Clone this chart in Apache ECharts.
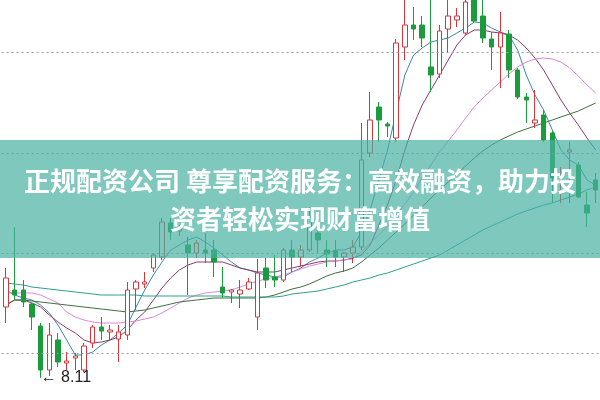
<!DOCTYPE html>
<html><head><meta charset="utf-8">
<script src="https://cdn.jsdelivr.net/npm/echarts@6/dist/echarts.min.js"></script>
<style>html,body{margin:0;padding:0;background:#fff}#c{width:600px;height:400px}</style>
</head><body><div id="c"></div>
<script>
const opens = [8.82, 8.99, 8.99, 8.85, 8.63, 8.19, 8.49, 8.26, 8.31, 8.19,
 8.46, 8.62, 8.57, 8.50, 8.54, 9.00, 9.05, 9.21, 9.32, 9.66,
 9.58, 9.44, 9.36, 9.39, 9.39, 9.02, 8.97, 8.95, 9.00, 8.72,
 9.21, 9.12, 9.09, 9.39, 9.32, 9.39, 9.56, 9.39, 9.38, 9.32,
 9.36, 9.42, 10.36, 10.82, 10.65, 10.51, 11.42, 11.64, 11.64, 11.22,
 11.15, 11.60, 11.69, 11.56, 11.91, 11.73, 11.50, 11.42, 11.55, 11.19,
 10.92, 10.66, 10.74, 10.56, 9.96, 10.37, 10.24, 9.84, 10.09];
const closes = [9.11, 8.94, 8.87, 8.72, 8.19, 8.54, 8.27, 8.28, 8.33, 8.43,
 8.62, 8.58, 8.59, 8.57, 8.99, 9.07, 9.07, 9.34, 9.67, 9.57,
 9.60, 9.36, 9.46, 9.36, 9.27, 8.96, 8.99, 8.99, 9.07, 9.16,
 9.09, 9.09, 9.39, 9.32, 9.39, 9.72, 9.49, 9.35, 9.32, 9.36,
 9.42, 10.29, 10.69, 10.69, 10.63, 11.46, 11.64, 11.60, 11.51, 11.14,
 11.58, 11.73, 11.73, 11.87, 11.68, 11.51, 11.42, 11.56, 11.19, 10.92,
 10.89, 10.69, 10.49, 10.11, 9.98, 10.39, 9.92, 9.76, 9.99];
const lows = [8.66, 8.89, 8.82, 8.59, 8.11, 8.13, 8.22, 8.19, 8.19, 8.17,
 8.41, 8.49, 8.49, 8.27, 8.49, 8.79, 9.01, 9.17, 9.29, 9.49,
 9.53, 8.94, 9.31, 9.26, 9.12, 8.91, 8.86, 8.81, 8.99, 8.59,
 9.01, 9.02, 9.07, 9.17, 9.22, 9.37, 9.36, 9.22, 9.22, 9.17,
 9.26, 9.39, 10.32, 10.47, 10.52, 10.47, 11.29, 11.49, 11.42, 10.97,
 11.11, 11.37, 11.62, 11.54, 11.66, 11.46, 11.19, 11.01, 11.11, 10.90,
 10.66, 10.61, 10.47, 9.86, 9.86, 9.86, 9.91, 9.62, 9.86];
const highs = [9.21, 9.62, 9.09, 8.86, 8.66, 8.66, 8.56, 8.37, 8.36, 8.46,
 8.64, 8.72, 8.64, 8.64, 9.07, 9.09, 9.17, 9.36, 9.71, 9.71,
 9.64, 9.52, 9.49, 9.56, 9.49, 9.22, 9.00, 9.09, 9.11, 9.30,
 9.31, 9.34, 9.41, 9.49, 9.44, 9.82, 9.69, 9.49, 9.49, 9.37,
 9.49, 10.66, 10.97, 10.87, 10.67, 11.50, 11.94, 11.82, 11.73, 11.94,
 11.64, 11.94, 11.81, 11.94, 11.97, 11.94, 11.57, 11.77, 11.59, 11.21,
 10.96, 10.99, 10.79, 10.58, 10.22, 10.47, 10.27, 9.97, 10.16];

const ma5 = [8.99, 8.94, 8.91, 8.89, 8.84, 8.76, 8.64, 8.49, 8.34, 8.34,
 8.37, 8.44, 8.49, 8.56, 8.64, 8.82, 8.99, 9.14, 9.27, 9.39,
 9.44, 9.49, 9.52, 9.47, 9.41, 9.34, 9.27, 9.21, 9.19, 9.16,
 9.14, 9.12, 9.12, 9.17, 9.21, 9.27, 9.31, 9.36, 9.39, 9.39,
 9.42, 9.57, 9.79, 10.09, 10.39, 10.77, 11.14, 11.34, 11.41, 11.47,
 11.49, 11.51, 11.56, 11.61, 11.67, 11.66, 11.61, 11.57, 11.54, 11.39,
 11.14, 10.94, 10.79, 10.59, 10.39, 10.29, 10.24, 10.09, 10.04];
const ma10 = [8.84, 8.89, 8.89, 8.86, 8.82, 8.74, 8.67, 8.61, 8.56, 8.49,
 8.46, 8.47, 8.49, 8.52, 8.59, 8.69, 8.77, 8.89, 9.01, 9.11,
 9.19, 9.24, 9.27, 9.27, 9.27, 9.27, 9.24, 9.21, 9.19, 9.17,
 9.17, 9.17, 9.19, 9.21, 9.23, 9.25, 9.27, 9.28, 9.28, 9.29,
 9.31, 9.34, 9.44, 9.64, 9.84, 10.09, 10.39, 10.64, 10.84, 10.99,
 11.14, 11.29, 11.44, 11.54, 11.59, 11.59, 11.57, 11.56, 11.54, 11.49,
 11.41, 11.31, 11.19, 11.04, 10.89, 10.76, 10.64, 10.51, 10.39];
const ma20 = [8.96, 8.96, 8.96, 8.96, 8.94, 8.90, 8.86, 8.77, 8.72, 8.69,
 8.67, 8.66, 8.66, 8.66, 8.67, 8.68, 8.70, 8.72, 8.76, 8.81,
 8.86, 8.91, 8.94, 8.96, 8.97, 8.98, 8.99, 9.02, 9.05, 9.08,
 9.10, 9.12, 9.14, 9.17, 9.20, 9.23, 9.25, 9.27, 9.28, 9.29,
 9.30, 9.37, 9.46, 9.54, 9.63, 9.74, 9.85, 9.97, 10.11, 10.24,
 10.37, 10.48, 10.59, 10.71, 10.82, 10.91, 10.99, 11.07, 11.15, 11.22,
 11.27, 11.30, 11.31, 11.30, 11.27, 11.21, 11.13, 11.04, 10.96];
const ma30 = [8.84, 8.89, 8.89, 8.88, 8.87, 8.86, 8.85, 8.84, 8.83, 8.82,
 8.81, 8.80, 8.79, 8.78, 8.77, 8.78, 8.79, 8.81, 8.83, 8.85,
 8.87, 8.88, 8.89, 8.90, 8.91, 8.91, 8.91, 8.91, 8.91, 8.91,
 8.92, 8.94, 8.97, 9.00, 9.02, 9.05, 9.09, 9.13, 9.16, 9.18,
 9.21, 9.27, 9.34, 9.41, 9.49, 9.57, 9.65, 9.74, 9.82, 9.91,
 9.99, 10.07, 10.15, 10.23, 10.31, 10.38, 10.44, 10.49, 10.53, 10.57,
 10.60, 10.63, 10.66, 10.69, 10.72, 10.75, 10.78, 10.82, 10.86];
const ma60 = [9.06, 9.05, 9.04, 9.02, 9.01, 9.00, 8.99, 8.98, 8.97, 8.96,
 8.95, 8.94, 8.94, 8.94, 8.94, 8.94, 8.93, 8.93, 8.93, 8.93,
 8.93, 8.93, 8.93, 8.93, 8.93, 8.93, 8.92, 8.92, 8.92, 8.92,
 8.92, 8.92, 8.93, 8.95, 8.96, 8.97, 8.98, 9.00, 9.02, 9.04,
 9.07, 9.09, 9.11, 9.14, 9.16, 9.19, 9.22, 9.25, 9.28, 9.31,
 9.34, 9.39, 9.44, 9.49, 9.54, 9.59, 9.63, 9.67, 9.71, 9.75,
 9.78, 9.81, 9.84, 9.86, 9.89, 9.92, 9.95, 9.99, 10.02];

const gridValues = [11.37, 10.36, 9.36, 8.36];
const lowMark = { index: 4, value: 8.11, text: '8.11' };
const titleLines = ['正规配资公司 尊享配资服务：高效融资，助力投', '资者轻松实现财富增值'];

const categories = opens.map((_, i) => String(i + 1));
const ohlc = opens.map((o, i) => [o, closes[i], lows[i], highs[i]]);

const chart = echarts.init(document.getElementById('c'), null, { renderer: 'canvas' });
function maLine(name, data, color) {
  return { name, type: 'line', data, symbol: 'none', smooth: false, silent: true,
    lineStyle: { color, width: 1 }, z: 3 };
}
chart.setOption({
  animation: false,
  backgroundColor: '#ffffff',
  grid: { left: 1.6, right: -5.35, top: 0, bottom: 0 },
  xAxis: { type: 'category', data: categories, boundaryGap: true, show: false },
  yAxis: { type: 'value', min: 7.89, max: 11.89, show: false, splitLine: { show: false } },
  series: [
    { name: 'K', type: 'candlestick', data: ohlc, barWidth: 5, z: 4,
      itemStyle: { color: '#ffffff', color0: '#1a9c3c', borderColor: '#d4373c', borderColor0: '#1a9c3c', borderWidth: 1 },
      markLine: { silent: true, symbol: 'none', label: { show: false },
        lineStyle: { color: '#9a9a9a', type: [2, 3], width: 1 },
        data: gridValues.map(v => ({ yAxis: v })) },
      markPoint: { silent: true, symbol: 'circle', symbolSize: 0,
        data: [{ coord: [lowMark.index, lowMark.value], value: lowMark.value }],
        label: { show: true, position: 'right', distance: 0, formatter: '← ' + lowMark.text,
          color: '#222', fontSize: 16, fontFamily: 'Liberation Sans, Arial, sans-serif' } }
    },
    maLine('MA5', ma5, '#3a88a8'),
    maLine('MA10', ma10, '#8a3b6e'),
    maLine('MA20', ma20, '#d98ad9'),
    maLine('MA30', ma30, '#3f6f3f'),
    maLine('MA60', ma60, '#2e9e8e')
  ],
  graphic: [
    { type: 'rect', left: 0, top: 140, z: 100, shape: { width: 600, height: 118 },
      style: { fill: 'rgba(73,177,163,0.7)' } },
    { type: 'text', x: 300, y: 181, z: 101,
      style: { text: titleLines[0], fill: '#ffffff', font: 'bold 26px "Noto Sans CJK SC"', textAlign: 'center', textVerticalAlign: 'middle' } },
    { type: 'text', x: 300, y: 219, z: 101,
      style: { text: titleLines[1], fill: '#ffffff', font: 'bold 26px "Noto Sans CJK SC"', textAlign: 'center', textVerticalAlign: 'middle' } }
  ]
});
</script></body></html>
